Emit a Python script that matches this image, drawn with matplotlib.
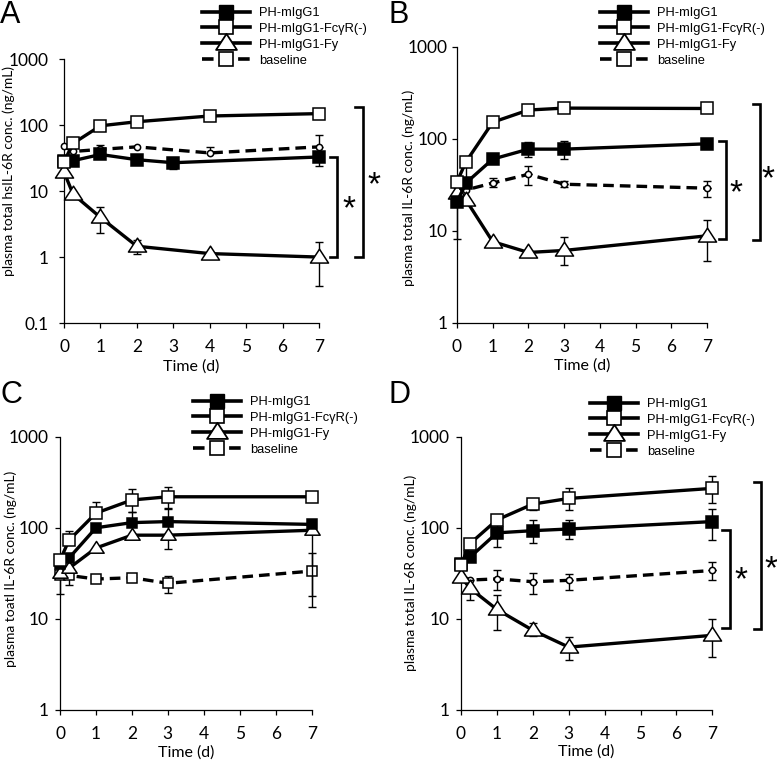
import numpy as np
import matplotlib
matplotlib.use('Agg')
import matplotlib.pyplot as plt
from matplotlib.lines import Line2D
from matplotlib.path import Path
from matplotlib.ticker import FixedLocator, NullLocator, FixedFormatter

plt.rcParams['font.family'] = ['Lato', 'DejaVu Sans']

nan = np.nan
labels = ['PH-mIgG1', 'PH-mIgG1-Fc\u03b3R(-)', 'PH-mIgG1-Fy', 'baseline']

# ---- panel A ----
days_a = [0, 0.25, 1, 2, 3, 4, 7]
a_mg1 = [29, 29, 36, 30, 27, nan, 33]
a_mg1_lo = [nan, nan, nan, 27, 22, nan, 24]
a_mg1_hi = [nan, nan, nan, 34, 31, nan, 38]
a_fcr = [28, 53, 98, 113, nan, 138, 150]
a_fy = [19.5, 9.0, 4.0, 1.46, nan, 1.13, 1.0]
a_fy_lo = [nan, nan, 2.3, 1.1, nan, nan, 0.36]
a_fy_hi = [nan, nan, 5.8, 1.8, nan, nan, 1.7]
a_base = [48, 40, 43, 47, nan, 38, 47]
a_base_lo = [nan, nan, 39, nan, nan, nan, nan]
a_base_hi = [nan, nan, 50, nan, nan, 47, 71]

# ---- panel B ----
days_b = [0, 0.25, 1, 2, 3, 7]
b_mg1 = [20.5, 33, 60, 77, 77, 88]
b_mg1_lo = [nan, nan, nan, 64, 60, 80]
b_mg1_hi = [nan, 50, nan, 91, 95, 97]
b_fcr = [34, 56, 151, 205, 215, 213]
b_fy = [25.5, 21.6, 7.6, 5.8, 6.1, 8.8]
b_fy_lo = [8.1, nan, nan, nan, 4.2, 4.7]
b_fy_hi = [nan, nan, nan, nan, 8.5, 13]
b_base = [30, 27.7, 33, 41, 32, 29]
b_base_lo = [nan, nan, 30, 31, 30, 23]
b_base_hi = [nan, nan, 37, 51, 35, 35]

# ---- panel C ----
days_c = [0, 0.25, 1, 2, 3, 7]
c_mg1 = [40, 46.5, 100, 114, 117, 109]
c_mg1_lo = [nan, nan, nan, nan, nan, nan]
c_mg1_hi = [nan, nan, nan, 150, 163, nan]
c_fcr = [44, 73, 145, 202, 219, 219]
c_fcr_lo = [nan, nan, nan, 150, 160, nan]
c_fcr_hi = [nan, 92, 193, 265, 280, nan]
c_fy = [32, 36, 60, 83, 83, 94]
c_fy_lo = [nan, nan, nan, nan, 59, 18]
c_fy_hi = [nan, nan, nan, nan, 107, nan]
c_base = [30, 30, 27.4, 28.3, 24.6, 33.5]
c_base_lo = [19, 23.5, nan, nan, 19.1, 13.6]
c_base_hi = [nan, 37, nan, nan, 29.6, 53]

# ---- panel D ----
days_d = [0, 0.25, 1, 2, 3, 7]
d_mg1 = [40, 47.5, 88, 93, 97, 117]
d_mg1_lo = [nan, nan, 62, 68, 76, 73]
d_mg1_hi = [nan, nan, 112, 122, 122, 162]
d_fcr = [39, 67, 122, 182, 210, 271]
d_fcr_lo = [nan, nan, nan, 155, 155, 185]
d_fcr_hi = [nan, nan, nan, 200, 275, 370]
d_fy = [29, 21.7, 12.7, 7.5, 4.9, 6.6]
d_fy_lo = [nan, 16, 7.6, 6.5, 3.5, 3.8]
d_fy_hi = [nan, 27, 18.5, 9.1, 6.3, 10]
d_base = [30, 26.7, 27.5, 25.6, 26.5, 34]
d_base_lo = [nan, nan, 21, 19, 21, 27]
d_base_hi = [nan, nan, 34, 31.6, 31, 42]

W, H = 777, 761
fig = plt.figure(figsize=(W / 100, H / 100), dpi=100)

# wide triangle like the Excel marker
TRI = Path([(-1.3, -0.8), (1.3, -0.8), (0, 1.2), (-1.3, -0.8)],
           [Path.MOVETO, Path.LINETO, Path.LINETO, Path.CLOSEPOLY])


def px_axes(l, t, r, b):
    ax = fig.add_axes([l / W, 1 - b / H, (r - l) / W, (b - t) / H])
    ax.box_px = (l, t, r, b)
    return ax


def series(ax, days, vals, lo=None, hi=None, marker='s', mfc='white', ms=8,
           ls='-', z=3):
    d = np.array(days, float)
    v = np.array(vals, float)
    ok = ~np.isnan(v)
    if lo is not None or hi is not None:
        lo = np.array(lo if lo is not None else [nan] * len(d), float)
        hi = np.array(hi if hi is not None else [nan] * len(d), float)
        for x, y, l, h in zip(d, v, lo, hi):
            if not np.isnan(h):
                ax.errorbar([x], [y], yerr=[[0], [h - y]], fmt='none', ecolor='k',
                            elinewidth=1, capsize=2.8, capthick=1, zorder=z - 0.5,
                            clip_on=False)
            if not np.isnan(l):
                ax.errorbar([x], [y], yerr=[[y - l], [0]], fmt='none', ecolor='k',
                            elinewidth=1, capsize=2.8, capthick=1, zorder=z - 0.5,
                            clip_on=False)
    line, = ax.plot(d[ok], v[ok], color='k', lw=2.4, ls=ls, marker=marker,
                    mfc=mfc, mec='k', mew=1.1, ms=ms, zorder=z, clip_on=False)
    if ls == '--':
        line.set_dashes((3.2, 1.8))
    return line


def setup(ax, ymin, ylabel, ypad, ylab_x, ylab_y, xlab_y):
    l, t, r, b = ax.box_px
    ax.set_yscale('log')
    ax.set_ylim(ymin, 1000)
    ax.set_xlim(0, 7)
    for s in ('top', 'right'):
        ax.spines[s].set_visible(False)
    for s in ('left', 'bottom'):
        ax.spines[s].set_linewidth(0.9)
    ax.xaxis.set_major_locator(FixedLocator(range(8)))
    yt = [10.0 ** k for k in range(int(np.log10(ymin)), 4)]
    ax.yaxis.set_major_locator(FixedLocator(yt))
    ax.yaxis.set_major_formatter(FixedFormatter(['%g' % v for v in yt]))
    ax.yaxis.set_minor_locator(NullLocator())
    ax.tick_params(axis='both', direction='out', length=3.5, width=0.9,
                   labelsize=12.5)
    ax.tick_params(axis='x', pad=8)
    ax.tick_params(axis='y', pad=ypad)
    ax.set_xlabel('Time (d)', fontsize=11.5, va='center')
    ax.xaxis.set_label_coords(0.5, (b - xlab_y) / (b - t))
    ax.set_ylabel(ylabel, fontsize=10, va='center')
    ax.yaxis.set_label_coords((ylab_x - l) / (r - l), (b - ylab_y) / (b - t))
    ax.patch.set_visible(False)


def brackets(ax, specs):
    for x, ytop, ybot, sx, sy in specs:
        arm = 0.2
        ax.plot([x - arm, x, x, x - arm], [ytop, ytop, ybot, ybot], color='k',
                lw=1.9, clip_on=False, solid_joinstyle='miter')
        ax.text(sx, sy, '*', fontsize=24, ha='center', va='center',
                family=['Liberation Sans', 'DejaVu Sans'])


def legend(ax, x, y):
    handles = [
        Line2D([], [], color='k', lw=2.6, marker='s', mfc='k', mec='k', ms=9.5),
        Line2D([], [], color='k', lw=2.6, marker='s', mfc='white', mec='k', mew=1.2, ms=9.5),
        Line2D([], [], color='k', lw=2.6, marker=TRI, mfc='white', mec='k', mew=1.3, ms=15),
        Line2D([], [], color='k', lw=2.6, ls=(0, (3.2, 1.8)), marker='s', mfc='white',
               mec='k', mew=1.2, ms=9.5),
    ]
    ax.legend(handles, labels, loc='upper left', bbox_to_anchor=(x / W, 1 - y / H),
              bbox_transform=fig.transFigure, frameon=False, borderpad=0,
              borderaxespad=0, handlelength=3.7, handletextpad=0.75,
              labelspacing=0.3, prop={'family': 'Liberation Sans', 'size': 9.3})


# A
axA = px_axes(64, 59.3, 319, 323)
setup(axA, 0.1, 'plasma total hsIL-6R conc. (ng/mL)', 7.3, 9, 171, 367)
series(axA, days_a, a_base, a_base_lo, a_base_hi, marker='o', ms=4.5, ls='--', z=3)
series(axA, days_a, a_fy, a_fy_lo, a_fy_hi, marker=TRI, ms=13, z=4)
series(axA, days_a, a_mg1, a_mg1_lo, a_mg1_hi, marker='s', mfc='k', ms=8, z=5)
series(axA, days_a, a_fcr, marker='s', ms=8.5, z=6)
brackets(axA, [(7.5, 33, 1.0, 7.82, 5.2), (8.2, 186, 1.0, 8.52, 12)])
legend(axA, 202, 7)

# B
axB = px_axes(457, 46.7, 707, 322.7)
setup(axB, 1, 'plasma total IL-6R conc. (ng/mL)', 3, 409, 188, 366)
series(axB, days_b, b_base, b_base_lo, b_base_hi, marker='o', ms=4.5, ls='--', z=3)
series(axB, days_b, b_fy, b_fy_lo, b_fy_hi, marker=TRI, ms=13, z=4)
series(axB, days_b, b_mg1, b_mg1_lo, b_mg1_hi, marker='s', mfc='k', ms=8, z=5)
series(axB, days_b, b_fcr, marker='s', ms=8.5, z=6)
brackets(axB, [(7.54, 95, 8.05, 7.8, 25), (8.48, 238, 7.9, 8.72, 36)])
legend(axB, 600, 7)

# C
axC = px_axes(60, 436.7, 311.7, 710)
setup(axC, 1, 'plasma toatl IL-6R conc. (ng/mL)', 5, 11, 569, 753)
series(axC, days_c, c_base, c_base_lo, c_base_hi, marker='s', ms=6.5, ls='--', z=3)
series(axC, days_c, c_fy, c_fy_lo, c_fy_hi, marker=TRI, ms=11, z=4)
series(axC, days_c, c_mg1, c_mg1_lo, c_mg1_hi, marker='s', mfc='k', ms=7.5, z=5)
series(axC, days_c, c_fcr, c_fcr_lo, c_fcr_hi, marker='s', ms=8.5, z=6)
legend(axC, 193, 396)

# D
axD = px_axes(461, 436.7, 712.3, 710)
setup(axD, 1, 'plasma total IL-6R conc. (ng/mL)', 5, 411, 573, 752)
series(axD, days_d, d_base, d_base_lo, d_base_hi, marker='o', ms=4.5, ls='--', z=3)
series(axD, days_d, d_fy, d_fy_lo, d_fy_hi, marker=TRI, ms=13, z=4)
series(axD, days_d, d_mg1, d_mg1_lo, d_mg1_hi, marker='s', mfc='k', ms=8, z=5)
series(axD, days_d, d_fcr, d_fcr_lo, d_fcr_hi, marker='s', ms=8.5, z=6)
brackets(axD, [(7.48, 94, 7.9, 7.8, 26), (8.36, 320, 7.8, 8.64, 35)])
legend(axD, 590, 398)

for letter, x, y in [('A', 0, 0), ('B', 389, 0), ('C', 0, 380), ('D', 389, 380)]:
    fig.text(x / W, 1 - y / H, letter, fontsize=22, ha='left', va='top',
             family=['Liberation Sans', 'DejaVu Sans'])

fig.savefig('out.png', dpi=100)
